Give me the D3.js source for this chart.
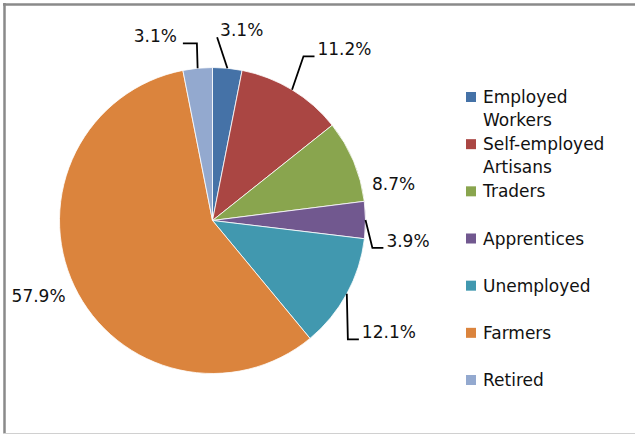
<!DOCTYPE html>
<html>
<head>
<meta charset="utf-8">
<script src="https://cdn.jsdelivr.net/npm/d3@7.9.0/dist/d3.min.js"></script>
<style>
  body { margin: 0; background: #fff; }
  svg { display: block; font-family: "DejaVu Sans", sans-serif; }
</style>
</head>
<body>
<svg width="635" height="434"></svg>
<script>
const categories = ['Employed Workers', 'Self-employed Artisans', 'Traders', 'Apprentices', 'Unemployed', 'Farmers', 'Retired'];
const legendLines = [['Employed', 'Workers'], ['Self-employed', 'Artisans'], ['Traders'], ['Apprentices'], ['Unemployed'], ['Farmers'], ['Retired']];
const shares = [3.1, 11.2, 8.7, 3.9, 12.1, 57.9, 3.1];
const sliceColors = ['#4572A7', '#AA4643', '#89A54E', '#71588F', '#4198AF', '#DB843D', '#93A9CF'];

// label nudges from the default outside position, and leader tails (null = no leader)
const labelNudge = [[12, -14], [40, -20], [18, 32], [18.5, 21], [21, 27], [-14, 0], [-40, -8]];
const leaderTail = [0, 11, null, 11, 11, null, 14];

const svg = d3.select('svg');
const cx = 212.5, cy = 220.5, radius = 153;

// frame
svg.append('line').attr('x1', 3).attr('x2', 635).attr('y1', 4.5).attr('y2', 4.5)
  .attr('stroke', '#8a8a8a').attr('stroke-width', 2.5);
svg.append('line').attr('x1', 4.5).attr('x2', 4.5).attr('y1', 3).attr('y2', 434)
  .attr('stroke', '#8a8a8a').attr('stroke-width', 2.5);
svg.append('line').attr('x1', 3).attr('x2', 635).attr('y1', 433.5).attr('y2', 433.5)
  .attr('stroke', '#d0d0d0').attr('stroke-width', 1);

const color = d3.scaleOrdinal().domain(categories).range(sliceColors);
const pie = d3.pie().sort(null).value(d => d);
const arcData = pie(shares);
const arcGen = d3.arc().innerRadius(0).outerRadius(radius);

const g = svg.append('g').attr('transform', `translate(${cx},${cy})`);

g.selectAll('path')
  .data(arcData)
  .join('path')
  .attr('d', arcGen)
  .attr('fill', (d, i) => color(categories[i]))
  .attr('stroke', '#fff')
  .attr('stroke-width', 0.8);

const polar = (a, r) => [Math.sin(a) * r, -Math.cos(a) * r];
const fmt = d => d.toFixed(1) + '%';
const fontSize = 17;

arcData.forEach((d, i) => {
  const mid = (d.startAngle + d.endAngle) / 2;
  const base = polar(mid, radius + 24);
  const lx = base[0] + labelNudge[i][0];
  const ly = base[1] + labelNudge[i][1];

  const txt = g.append('text')
    .attr('x', lx).attr('y', ly)
    .attr('dy', '0.36em')
    .attr('text-anchor', 'middle')
    .attr('font-size', fontSize)
    .attr('fill', '#111')
    .text(fmt(d.data));

  if (leaderTail[i] !== null) {
    const w = txt.node().getComputedTextLength();
    const right = lx > mid * 0 && Math.sin(mid) > 0;
    const side = right ? lx - w / 2 - 3 : lx + w / 2 + 6;
    const yb = ly + 7;
    const tail = right ? -leaderTail[i] : leaderTail[i];
    const start = polar(mid, radius);
    g.append('path')
      .attr('d', d3.line()([start, [side + tail, yb], [side, yb]]))
      .attr('fill', 'none')
      .attr('stroke', '#000')
      .attr('stroke-width', 1.8);
  }
});

// legend
const legendY = d3.scalePoint().domain(categories).range([97, 380]);
const legend = svg.append('g');
categories.forEach((c, i) => {
  const y = legendY(c);
  legend.append('rect')
    .attr('x', 466).attr('y', y - 5)
    .attr('width', 10).attr('height', 10)
    .attr('fill', color(c));
  legendLines[i].forEach((line, j) => {
    legend.append('text')
      .attr('x', 483).attr('y', y + j * 23)
      .attr('dy', '0.36em')
      .attr('font-size', fontSize)
      .attr('fill', '#111')
      .text(line);
  });
});
</script>
</body>
</html>
